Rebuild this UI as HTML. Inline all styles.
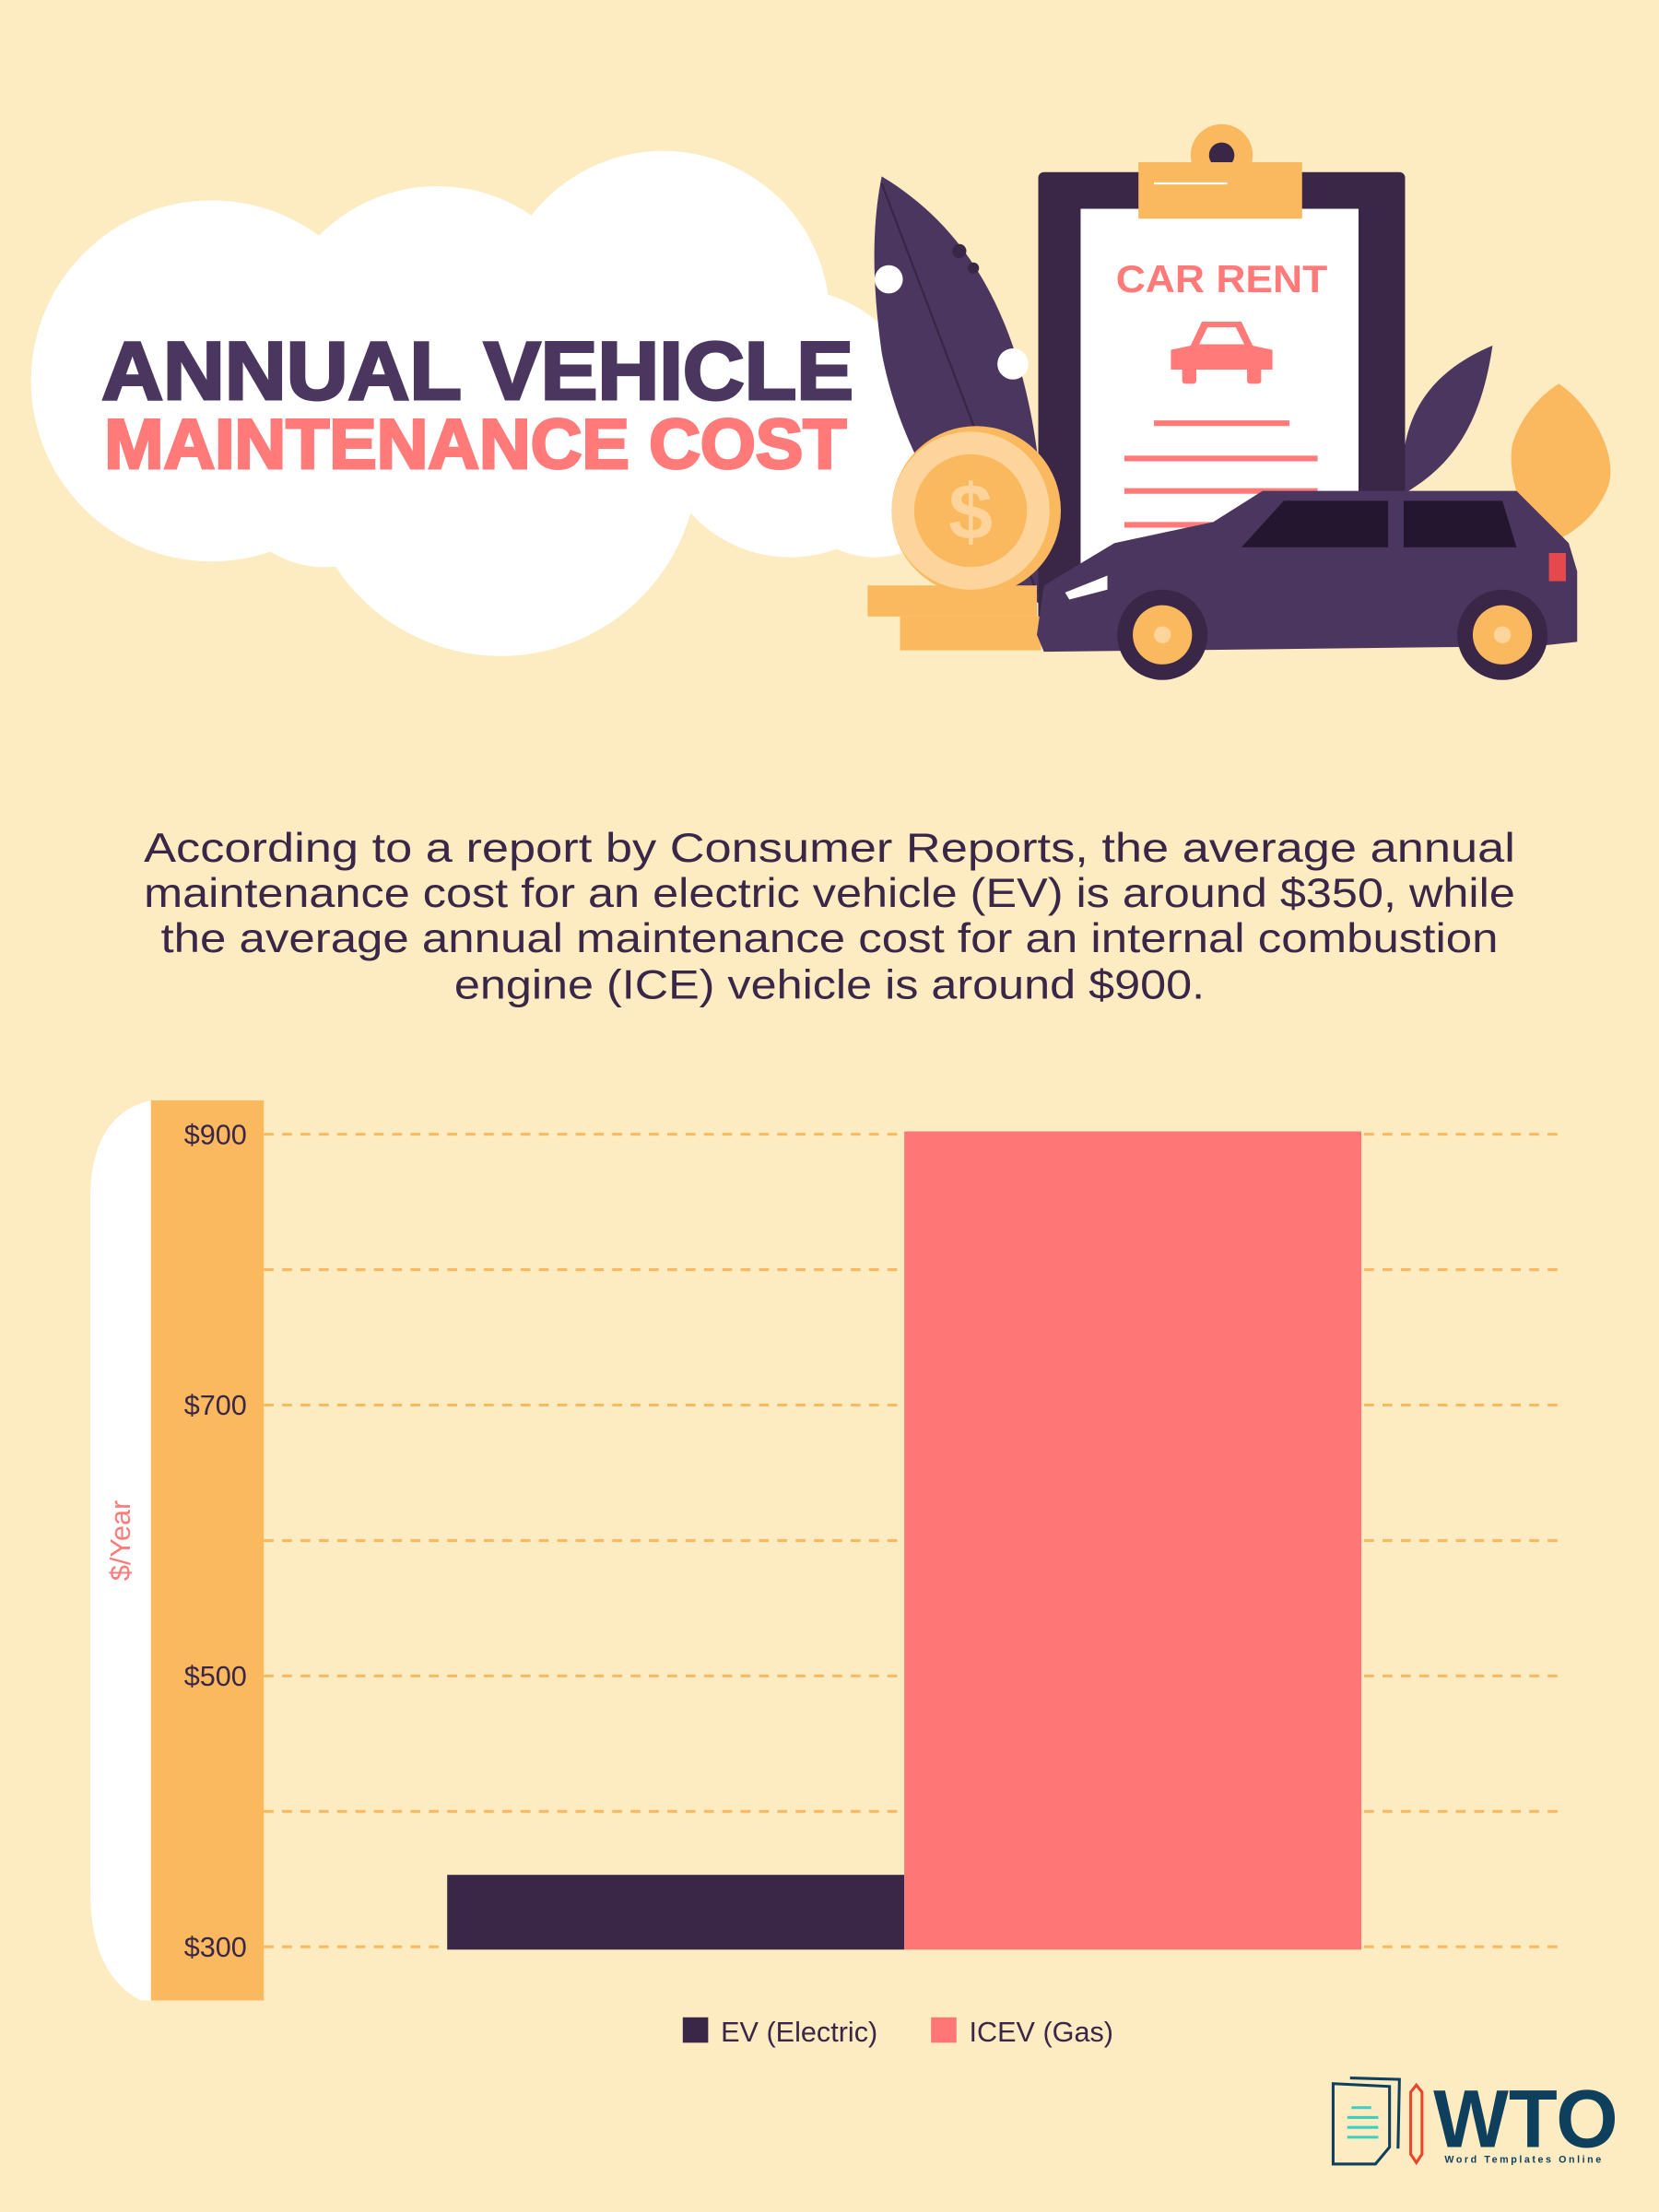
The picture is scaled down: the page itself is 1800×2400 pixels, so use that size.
<!DOCTYPE html>
<html><head><meta charset="utf-8"><style>
html,body{margin:0;padding:0;background:#fdebc2;}
svg{display:block;}
text{font-family:"Liberation Sans",sans-serif;}
</style></head><body>
<svg width="1800" height="2400" viewBox="0 0 1176 1568" xmlns="http://www.w3.org/2000/svg">
<rect width="1176" height="1568" fill="#fdebc2"/>
<!-- cloud -->
<g fill="#ffffff">
<circle cx="150" cy="270" r="128"/>
<circle cx="310" cy="250" r="118"/>
<circle cx="470" cy="225" r="118"/>
<circle cx="355" cy="325" r="140"/>
<circle cx="560" cy="300" r="95"/>
<circle cx="620" cy="330" r="65"/>
<circle cx="230" cy="330" r="72"/>
</g>
<!-- big leaf -->
<path d="M625 125 C700 170 745 260 740 430 C690 400 640 330 625 250 C618 200 618 160 625 125 Z" fill="#4b3660"/>
<path d="M625 130 L735 420" stroke="#3a2646" stroke-width="1.5"/>
<circle cx="630" cy="198" r="10" fill="#fff"/>
<circle cx="718" cy="258" r="11" fill="#fff"/>
<circle cx="680" cy="178" r="5" fill="#3a2646"/><circle cx="690" cy="190" r="4" fill="#3a2646"/>
<!-- small leaf right -->
<path d="M1058 245 C1050 300 1030 330 995 350 C990 300 1010 265 1058 245 Z" fill="#4b3660"/>
<!-- orange leaf -->
<path d="M1105 272 C1125 285 1148 320 1140 345 C1130 370 1110 380 1100 385 C1080 370 1068 340 1072 315 C1078 295 1092 280 1105 272 Z" fill="#fbb95f"/>
<!-- clipboard -->
<rect x="736" y="122" width="260" height="330" rx="4" fill="#3a2646"/>
<rect x="766" y="148" width="197" height="300" fill="#ffffff"/>
<circle cx="866" cy="110" r="22" fill="#fbb95f"/>
<circle cx="866" cy="110" r="9" fill="#3a2646"/>
<rect x="807" y="115" width="116" height="40" fill="#fbb95f"/>
<line x1="818" y1="130" x2="870" y2="130" stroke="#fff" stroke-width="1.5"/>
<text x="866" y="207" text-anchor="middle" font-size="27" font-weight="bold" fill="#ff7a78" textLength="150" lengthAdjust="spacingAndGlyphs">CAR RENT</text>
<g fill="#ff7a78">
<path d="M844 245 L852 228 L880 228 L888 245 L902 248 L902 262 L830 262 L830 248 Z"/>
<rect x="838" y="260" width="10" height="12" rx="2"/><rect x="884" y="260" width="10" height="12" rx="2"/>
</g>
<path d="M850 244 L856 232 L876 232 L882 244 Z" fill="#fff"/>
<g stroke="#ff7a78" stroke-width="4">
<line x1="818" y1="300" x2="914" y2="300"/><line x1="797" y1="325" x2="934" y2="325"/>
<line x1="797" y1="348" x2="934" y2="348"/><line x1="797" y1="372" x2="870" y2="372"/>
</g>
<!-- coins -->
<rect x="615" y="415" width="120" height="22" fill="#fbb95f"/>
<rect x="638" y="437" width="100" height="24" fill="#fbb95f"/>
<circle cx="692" cy="362" r="60" fill="#fbb95f"/>
<circle cx="688" cy="362" r="56" fill="#fdd59c"/>
<circle cx="688" cy="362" r="40" fill="#fbb95f"/>
<text x="688" y="382" text-anchor="middle" font-size="56" font-weight="bold" fill="#fdd59c">$</text>
<!-- car -->
<path d="M735 450 L740 415 L790 385 L860 370 L895 348 L1075 348 L1112 385 L1118 405 L1118 455 L1090 458 L740 462 Z" fill="#4b3660"/>
<path d="M880 388 L910 355 L984 355 L984 388 Z" fill="#24162f"/>
<path d="M995 355 L1065 355 L1075 388 L995 388 Z" fill="#24162f"/>
<rect x="1098" y="392" width="12" height="20" fill="#e5484d"/>
<path d="M755 420 L785 408 L785 418 L758 425 Z" fill="#fff"/>
<circle cx="824" cy="450" r="32" fill="#3a2646"/><circle cx="824" cy="450" r="21" fill="#fbb95f"/><circle cx="824" cy="450" r="6" fill="#fdd59c"/>
<circle cx="1065" cy="450" r="32" fill="#3a2646"/><circle cx="1065" cy="450" r="21" fill="#fbb95f"/><circle cx="1065" cy="450" r="6" fill="#fdd59c"/>
<!-- title -->
<text x="72" y="283" font-size="58" font-weight="900" fill="#4b3660" textLength="533" lengthAdjust="spacingAndGlyphs" stroke="#4b3660" stroke-width="2">ANNUAL VEHICLE</text>
<text x="74" y="332" font-size="50" font-weight="900" fill="#ff7a78" textLength="526" lengthAdjust="spacingAndGlyphs" stroke="#ff7a78" stroke-width="2">MAINTENANCE COST</text>
<!-- paragraph -->
<g font-size="29" fill="#3a2646" text-anchor="middle">
<text x="588" y="611" textLength="972" lengthAdjust="spacingAndGlyphs">According to a report by Consumer Reports, the average annual</text>
<text x="588" y="643" textLength="972" lengthAdjust="spacingAndGlyphs">maintenance cost for an electric vehicle (EV) is around $350, while</text>
<text x="588" y="675" textLength="948" lengthAdjust="spacingAndGlyphs">the average annual maintenance cost for an internal combustion</text>
<text x="588" y="708" textLength="532" lengthAdjust="spacingAndGlyphs">engine (ICE) vehicle is around $900.</text>
</g>
<!-- chart -->
<path d="M107 780 L107 1418 L100 1418 Q64 1400 64 1340 L64 850 Q64 790 107 780 Z" fill="#ffffff"/>
<rect x="107" y="780" width="80" height="638" fill="#fbb95f"/>
<text transform="translate(92,1092) rotate(-90)" text-anchor="middle" font-size="20" fill="#ff7a78">$/Year</text>
<g stroke="#fbb95f" stroke-width="2" stroke-dasharray="7,6">
<line x1="187" y1="804" x2="1104" y2="804"/><line x1="187" y1="900" x2="1104" y2="900"/>
<line x1="187" y1="996" x2="1104" y2="996"/><line x1="187" y1="1092" x2="1104" y2="1092"/>
<line x1="187" y1="1188" x2="1104" y2="1188"/><line x1="187" y1="1284" x2="1104" y2="1284"/>
<line x1="187" y1="1380" x2="1104" y2="1380"/>
</g>
<g font-size="20" fill="#3a2646" text-anchor="end">
<text x="175" y="811">$900</text><text x="175" y="1003">$700</text>
<text x="175" y="1195">$500</text><text x="175" y="1387">$300</text>
</g>
<rect x="317" y="1329" width="324" height="53" fill="#3a2646"/>
<rect x="641" y="802" width="324" height="580" fill="#ff7677"/>
<rect x="484" y="1430" width="18" height="18" fill="#3a2646"/>
<text x="511" y="1447" font-size="20" fill="#3a2646">EV (Electric)</text>
<rect x="660" y="1430" width="18" height="18" fill="#ff7677"/>
<text x="687" y="1447" font-size="20" fill="#3a2646">ICEV (Gas)</text>
<!-- logo -->
<g fill="none" stroke="#0e3f5c" stroke-width="2">
<path d="M945 1477 L945 1534 L975 1534 L985 1522 L985 1479 Z"/>
<path d="M957 1473 L992 1474 L991 1523"/>
</g>
<g stroke="#3dd0c0" stroke-width="2"><line x1="958" y1="1494" x2="972" y2="1494"/><line x1="955" y1="1501" x2="977" y2="1501"/><line x1="955" y1="1508" x2="977" y2="1508"/><line x1="955" y1="1515" x2="977" y2="1515"/></g>
<path d="M1000 1483 L1004 1478 L1008 1483 L1008 1527 L1004 1533 L1000 1527 Z" fill="none" stroke="#e8452a" stroke-width="2"/>
<text x="1016" y="1522" font-size="58" font-weight="bold" fill="#0e3f5c" textLength="131" lengthAdjust="spacingAndGlyphs">WTO</text>
<text x="1024" y="1533" font-size="7" font-weight="bold" fill="#0e3f5c" textLength="111" lengthAdjust="spacing">Word Templates Online</text>
</svg>
</body></html>
